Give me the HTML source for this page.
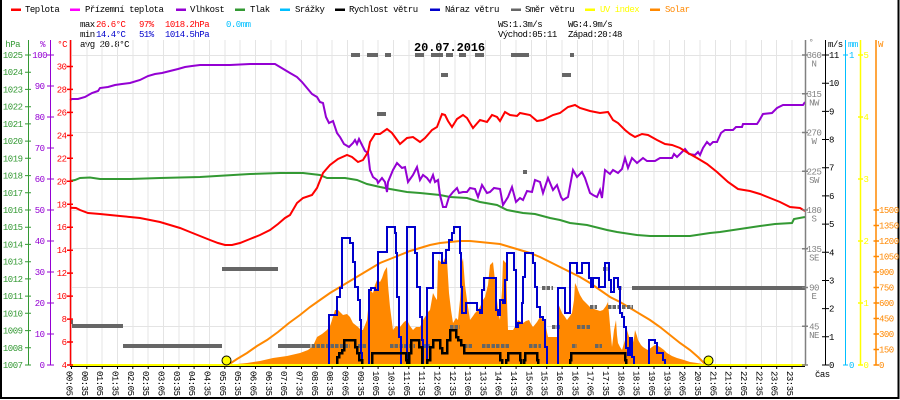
<!DOCTYPE html>
<html><head><meta charset="utf-8"><style>
html,body{margin:0;padding:0;background:#fff;}
svg{display:block;}
text{font-family:"Liberation Mono","DejaVu Sans Mono",monospace;font-size:9px;letter-spacing:-0.5px;}
</style></head><body>
<svg width="900" height="400" viewBox="0 0 900 400" xmlns="http://www.w3.org/2000/svg">
<rect x="0" y="0" width="900" height="400" fill="#fff"/>
<!-- border -->
<path d="M1 0V398H898.5V0" fill="none" stroke="#000" stroke-width="2"/>

<!-- legend -->
<g>
<rect x="11" y="8.5" width="10" height="2.5" fill="#ff0000"/><text x="25" y="12">Teplota</text>
<rect x="70" y="8.5" width="10" height="2.5" fill="#ff00ff"/><text x="85" y="12">Přízemní teplota</text>
<rect x="176" y="8.5" width="10" height="2.5" fill="#9400d3"/><text x="190" y="12">Vlhkost</text>
<rect x="235" y="8.5" width="10" height="2.5" fill="#339933"/><text x="250" y="12">Tlak</text>
<rect x="280" y="8.5" width="10" height="2.5" fill="#00bfff"/><text x="295" y="12">Srážky</text>
<rect x="335" y="8.5" width="10" height="2.5" fill="#000"/><text x="349" y="12">Rychlost větru</text>
<rect x="430" y="8.5" width="10" height="2.5" fill="#0000cc"/><text x="445" y="12">Náraz větru</text>
<rect x="511" y="8.5" width="10" height="2.5" fill="#666"/><text x="525" y="12">Směr větru</text>
<rect x="585" y="8.5" width="10" height="2.5" fill="#ffff00"/><text x="600" y="12" fill="#ffff00">UV index</text>
<rect x="650" y="8.5" width="10" height="2.5" fill="#ff8800"/><text x="665" y="12" fill="#ff8800">Solar</text>
</g>

<!-- stats -->
<text x="80" y="27">max</text>
<text x="96" y="27" fill="#ff0000">26.6°C</text>
<text x="139" y="27" fill="#ff0000">97%</text>
<text x="165" y="27" fill="#ff0000">1018.2hPa</text>
<text x="226" y="27" fill="#00bfff">0.0mm</text>
<text x="80" y="37">min</text>
<text x="96" y="37" fill="#0000cc">14.4°C</text>
<text x="139" y="37" fill="#0000cc">51%</text>
<text x="165" y="37" fill="#0000cc">1014.5hPa</text>
<text x="80" y="47">avg 20.8°C</text>
<text x="498" y="27">WS:1.3m/s</text>
<text x="568" y="27">WG:4.9m/s</text>
<text x="498" y="37">Východ:05:11</text>
<text x="568" y="37">Západ:20:48</text>

<!-- grid -->
<g stroke="#e4e4e4" stroke-width="1" shape-rendering="crispEdges">
<path d="M71.5 40V365M86.8 40V365M102.2 40V365M117.5 40V365M132.8 40V365M148.2 40V365M163.5 40V365M178.8 40V365M194.1 40V365M209.5 40V365M224.8 40V365M240.1 40V365M255.5 40V365M270.8 40V365M286.1 40V365M301.5 40V365M316.8 40V365M332.1 40V365M347.4 40V365M362.8 40V365M378.1 40V365M393.4 40V365M408.8 40V365M424.1 40V365M439.4 40V365M454.8 40V365M470.1 40V365M485.4 40V365M500.7 40V365M516.1 40V365M531.4 40V365M546.7 40V365M562.1 40V365M577.4 40V365M592.7 40V365M608.1 40V365M623.4 40V365M638.7 40V365M654 40V365M669.4 40V365M684.7 40V365M700 40V365M715.4 40V365M730.7 40V365M746 40V365M761.4 40V365M776.7 40V365M792 40V365"/>
<path d="M70 55.5H805M70 93.5H805M70 132.5H805M70 171.5H805M70 210.5H805M70 248.5H805M70 287.5H805M70 326.5H805"/>
</g>

<!-- title -->
<text x="414" y="51" style="font-size:12px;font-weight:bold;letter-spacing:-0.1px">20.07.2016</text>

<!-- solar fill -->
<polygon fill="#ff8800" points="227,365 237,364 247,363 260,361 273,358 287,356 300,353 308,350 313,346 317,337 322,334 327,330 330,326 332,320 335,310 338,310 341,313 343,315 347,314 350,317 353,323 358,327 361,330 363,330 365,325 367,320 369,300 370,290 373,293 375,285 377,280 380,282 382,278 384,272 385,270 387,267 388,285 390,307 393,330 396,326 400,327 404,322 407,320 410,326 413,330 416,327 420,327 423,320 425,317 428,312 430,310 433,293 435,297 437,300 438,260 441,262 443,262 445,258 447,260 449,293 451,310 453,323 456,318 458,320 460,300 462,262 463,258 465,285 467,300 470,320 473,316 475,313 478,310 480,307 483,300 485,297 488,285 490,265 493,262 496,290 498,310 500,320 502,290 503,260 506,263 507,300 508,330 513,330 516,325 518,320 521,322 523,323 526,321 529,320 531,324 533,327 537,322 540,317 543,320 545,323 548,337 552,337 557,337 558,303 560,308 562,313 565,317 567,320 570,316 572,313 574,300 575,283 577,287 578,290 580,295 583,300 587,304 590,307 594,309 597,310 600,311 603,310 606,306 608,302 610,325 612,347 614,330 616,320 617,335 618,343 620,347 622,350 625,340 627,330 630,340 632,347 634,338 635,330 637,336 638,340 641,345 643,347 646,349 648,350 652,347 655,345 658,346 660,347 664,350 667,353 672,356 677,358 684,360 690,362 697,363 703,364 706,365"/>
<!-- solar max curve -->
<polyline fill="none" stroke="#ff8800" stroke-width="2" points="228,365 237,359 247,353 257,346 267,340 278,332 289,323 300,315 310,307 320,300 330,293 340,287 350,281 360,275 370,269 380,263 390,259 400,255 410,251 420,248 430,245 440,243 450,242 460,241 470,241 480,242 490,243 500,244 510,247 520,250 530,253 540,257 550,262 560,267 570,272 580,277 590,283 600,290 610,297 620,302 630,308 640,314 650,320 660,327 670,335 680,343 690,350 698,357 706,365"/>

<!-- wind direction -->
<g stroke="#666" stroke-width="4" fill="none" shape-rendering="crispEdges">
<path d="M70 322H73M72 326H123M123 346H222M222 269H278M278 346H307M632 288H805"/>
<path d="M351 55H360M367 55H378M385 55H391M415 55H424M431 55H443M446 55H453M459 55H466M475 55H484M511 55H529M570 55H574M441 75H448M562 75H571M377 114H386M523 172H527"/>
<path stroke-dasharray="3.5 1.2" d="M307 346H350M358 346H366M390 346H415M423 346H430M464 346H473M482 346H510M529 346H541M572 346H577M595 346H602M450 327H460M552 327H561M577 327H590M590 307H597M608 307H633M542 288H553M618 288H622M603 269H609"/>
</g>

<!-- pressure -->
<polyline fill="none" stroke="#339933" stroke-width="2" points="70,181 75,180 80,178 90,177.5 100,179 130,179 160,178 200,177 250,174 280,173 303,173 320,175 327,178 345,178 357,180 367,184 380,187 390,189 407,192 420,193 440,195 450,197 467,198 480,202 497,205 507,210 523,213 535,214 550,218 560,220 570,223 587,225 607,230 617,232 637,235 650,236 673,236 690,236 710,233 720,232 740,229 760,226 775,224 792,223 794,219 805,217"/>

<!-- humidity -->
<polyline fill="none" stroke="#9400d3" stroke-width="2" points="70,100 72,99 78,99 85,97 92,93 98,91 100,88 108,87 115,85 122,84 130,83 140,80 148,76 155,74 162,73 170,71 178,69 185,67 192,66 200,65 210,65 230,65 250,64 275,64 280,67 285,70 290,73 297,77 302,82 307,88 312,94 317,97 320,102 323,103 326,117 329,123 333,121 337,133 340,137 344,144 349,147 353,143 355,140 357,144 359,139 362,145 365,151 368,153 370,170 373,177 377,180 378,183 382,178 385,182 387,192 388,182 393,170 397,163 402,168 405,167 408,182 413,175 417,167 420,180 423,175 427,178 430,182 433,175 435,182 438,180 440,195 443,207 446,207 449,197 453,192 457,188 459,193 463,192 467,192 470,188 475,189 478,197 482,185 487,193 490,192 494,188 500,189 503,205 508,197 512,187 516,202 520,198 523,200 527,191 532,192 535,180 540,182 543,193 548,178 553,190 557,185 561,197 563,200 568,197 573,170 577,177 582,172 585,178 590,193 593,195 597,197 600,190 602,198 605,170 610,174 613,170 618,173 622,169 625,158 628,168 632,158 637,163 643,158 647,161 655,161 660,158 672,158 674,154 677,157 685,149 689,154 695,155 698,152 700,155 703,148 707,142 710,145 713,142 717,142 721,133 725,130 733,130 736,127 742,127 743,124 757,124 759,121 763,114 772,113 777,108 783,105 803,105 805,102"/>

<!-- temperature -->
<polyline fill="none" stroke="#ff0000" stroke-width="2" points="70,207.7 76,208 80,210 88,213 100,214 110,215 120,216 130,217 140,218 150,220 160,222 170,225 180,228 190,232 200,236 210,240 218,243 225,245 232,245 240,243 250,239 260,235 270,230 278,224 285,218 290,215 297,203 303,198 312,195 317,188 323,173 330,165 338,159 347,155 352,157 358,162 363,160 368,152 370,142 375,134 380,134 387,129 392,133 400,144 407,138 413,137 420,142 425,138 432,130 437,127 442,114 445,115 448,121 452,127 457,119 463,115 467,118 473,128 480,120 487,122 492,115 497,117 500,121 505,112 510,115 517,116 520,113 530,115 537,121 543,120 553,115 560,113 568,107 575,105 580,108 590,111 600,113 608,112 613,120 618,123 625,130 630,134 635,137 642,134 648,135 657,140 665,144 672,145 680,148 688,153 697,158 707,164 717,172 728,182 738,189 750,191 760,194 770,198 780,202 790,207 800,208 805,211"/>

<!-- gust -->
<polyline fill="none" stroke="#0000cc" stroke-width="2" shape-rendering="crispEdges" points="70,365 329,365 329,315 337,315 337,297 340,297 340,288 342,288 342,238 350,238 350,243 353,243 353,262 355,262 355,287 358,287 358,300 360,300 360,320 361,320 361,353 362,353 362,365 369,365 369,290 371,290 371,288 375,288 375,290 378,290 378,252 387,252 387,227 395,227 395,233 396,233 396,253 397,253 397,297 399,297 399,337 401,337 401,365 407,365 407,227 415,227 415,253 417,253 417,287 420,287 420,317 422,317 422,340 423,340 423,365 427,365 427,288 433,288 433,253 442,253 442,263 446,263 446,250 449,250 449,240 452,240 452,233 454,233 454,227 460,227 460,253 461,253 461,287 462,287 462,313 466,313 466,303 477,303 477,310 480,310 480,313 482,313 482,290 484,290 484,278 496,278 496,310 498,310 498,315 500,315 500,300 503,300 503,303 505,303 505,280 507,280 507,253 514,253 514,270 516,270 516,327 518,327 518,323 522,323 522,303 523,303 523,277 525,277 525,253 533,253 533,263 535,263 535,287 537,287 537,307 540,307 540,317 543,317 543,320 545,320 545,347 547,347 547,365 558,365 558,288 565,288 565,313 570,313 570,263 577,263 577,273 582,273 582,263 589,263 589,278 591,278 591,287 593,287 593,278 599,278 599,287 605,287 605,263 609,263 609,280 611,280 611,292 614,292 614,278 618,278 618,287 620,287 620,313 622,313 622,317 624,317 624,327 626,327 626,348 628,348 628,355 630,355 630,338 632,338 632,357 634,357 634,365 649,365 649,340 655,340 655,343 657,343 657,353 663,353 663,360 665,360 665,365 805,365"/>

<!-- wind speed -->
<polyline fill="none" stroke="#000" stroke-width="2.5" shape-rendering="crispEdges" points="70,365 337,365 337,357 339,357 339,353 342,353 342,350 344,350 344,340 355,340 355,347 357,347 357,353 359,353 359,360 362,360 362,365 372,365 372,353 406,353 406,360 407,360 407,365 409,365 409,353 411,353 411,340 419,340 419,347 422,347 422,365 427,365 427,360 430,360 430,347 433,347 433,340 440,340 440,348 442,348 442,353 447,353 447,340 450,340 450,330 456,330 456,337 458,337 458,340 461,340 461,345 464,345 464,353 500,353 500,360 502,360 502,365 506,365 506,360 508,360 508,353 520,353 520,360 521,360 521,365 524,365 524,360 525,360 525,353 537,353 537,360 538,360 538,365 570,365 570,360 571,360 571,353 625,353 625,360 626,360 626,365 805,365"/>

<!-- x axis -->
<path d="M70 366.5H805" stroke="#000" stroke-width="1"/>
<path d="M70 365H805" stroke="#ffff00" stroke-width="2"/>
<circle cx="226.5" cy="360.5" r="4.5" fill="#ffff00" stroke="#000" stroke-width="1"/>
<circle cx="708.5" cy="360.5" r="4.5" fill="#ffff00" stroke="#000" stroke-width="1"/>
<path stroke="#000" stroke-width="1" d="M71.5 366v3M86.8 366v3M102.2 366v3M117.5 366v3M132.8 366v3M148.2 366v3M163.5 366v3M178.8 366v3M194.1 366v3M209.5 366v3M224.8 366v3M240.1 366v3M255.5 366v3M270.8 366v3M286.1 366v3M301.5 366v3M316.8 366v3M332.1 366v3M347.4 366v3M362.8 366v3M378.1 366v3M393.4 366v3M408.8 366v3M424.1 366v3M439.4 366v3M454.8 366v3M470.1 366v3M485.4 366v3M500.7 366v3M516.1 366v3M531.4 366v3M546.7 366v3M562.1 366v3M577.4 366v3M592.7 366v3M608.1 366v3M623.4 366v3M638.7 366v3M654 366v3M669.4 366v3M684.7 366v3M700 366v3M715.4 366v3M730.7 366v3M746 366v3M761.4 366v3M776.7 366v3M792 366v3"/>

<!-- time labels -->
<g>
<text transform="translate(66.5,371) rotate(90)">00:05</text>
<text transform="translate(81.8,371) rotate(90)">00:35</text>
<text transform="translate(97.2,371) rotate(90)">01:05</text>
<text transform="translate(112.5,371) rotate(90)">01:35</text>
<text transform="translate(127.8,371) rotate(90)">02:05</text>
<text transform="translate(143.2,371) rotate(90)">02:35</text>
<text transform="translate(158.5,371) rotate(90)">03:05</text>
<text transform="translate(173.8,371) rotate(90)">03:35</text>
<text transform="translate(189.1,371) rotate(90)">04:05</text>
<text transform="translate(204.5,371) rotate(90)">04:35</text>
<text transform="translate(219.8,371) rotate(90)">05:05</text>
<text transform="translate(235.1,371) rotate(90)">05:35</text>
<text transform="translate(250.5,371) rotate(90)">06:05</text>
<text transform="translate(265.8,371) rotate(90)">06:35</text>
<text transform="translate(281.1,371) rotate(90)">07:05</text>
<text transform="translate(296.5,371) rotate(90)">07:35</text>
<text transform="translate(311.8,371) rotate(90)">08:05</text>
<text transform="translate(327.1,371) rotate(90)">08:35</text>
<text transform="translate(342.4,371) rotate(90)">09:05</text>
<text transform="translate(357.8,371) rotate(90)">09:35</text>
<text transform="translate(373.1,371) rotate(90)">10:05</text>
<text transform="translate(388.4,371) rotate(90)">10:35</text>
<text transform="translate(403.8,371) rotate(90)">11:05</text>
<text transform="translate(419.1,371) rotate(90)">11:35</text>
<text transform="translate(434.4,371) rotate(90)">12:05</text>
<text transform="translate(449.8,371) rotate(90)">12:35</text>
<text transform="translate(465.1,371) rotate(90)">13:05</text>
<text transform="translate(480.4,371) rotate(90)">13:35</text>
<text transform="translate(495.7,371) rotate(90)">14:05</text>
<text transform="translate(511.1,371) rotate(90)">14:35</text>
<text transform="translate(526.4,371) rotate(90)">15:05</text>
<text transform="translate(541.7,371) rotate(90)">15:35</text>
<text transform="translate(557.1,371) rotate(90)">16:05</text>
<text transform="translate(572.4,371) rotate(90)">16:35</text>
<text transform="translate(587.7,371) rotate(90)">17:05</text>
<text transform="translate(603.1,371) rotate(90)">17:35</text>
<text transform="translate(618.4,371) rotate(90)">18:05</text>
<text transform="translate(633.7,371) rotate(90)">18:35</text>
<text transform="translate(649,371) rotate(90)">19:05</text>
<text transform="translate(664.4,371) rotate(90)">19:35</text>
<text transform="translate(679.7,371) rotate(90)">20:05</text>
<text transform="translate(695,371) rotate(90)">20:35</text>
<text transform="translate(710.4,371) rotate(90)">21:05</text>
<text transform="translate(725.7,371) rotate(90)">21:35</text>
<text transform="translate(741,371) rotate(90)">22:05</text>
<text transform="translate(756.4,371) rotate(90)">22:35</text>
<text transform="translate(771.7,371) rotate(90)">23:05</text>
<text transform="translate(787,371) rotate(90)">23:35</text>
</g>
<text x="815" y="377">čas</text>

<!-- hPa axis -->
<g fill="#339933" text-anchor="end">
<path d="M28.5 40V365M25 55H31M25 72.2H31M25 89.4H31M25 106.7H31M25 123.9H31M25 141.1H31M25 158.3H31M25 175.6H31M25 192.8H31M25 210H31M25 227.2H31M25 244.4H31M25 261.7H31M25 278.9H31M25 296.1H31M25 313.3H31M25 330.6H31M25 347.8H31M25 365H31" stroke="#339933" stroke-width="1"/>
<text x="22.5" y="58">1025</text><text x="22.5" y="75.2">1024</text><text x="22.5" y="92.4">1023</text><text x="22.5" y="109.7">1022</text><text x="22.5" y="126.9">1021</text><text x="22.5" y="144.1">1020</text><text x="22.5" y="161.3">1019</text><text x="22.5" y="178.6">1018</text><text x="22.5" y="195.8">1017</text><text x="22.5" y="213">1016</text><text x="22.5" y="230.2">1015</text><text x="22.5" y="247.4">1014</text><text x="22.5" y="264.7">1013</text><text x="22.5" y="281.9">1012</text><text x="22.5" y="299.1">1011</text><text x="22.5" y="316.3">1010</text><text x="22.5" y="333.6">1009</text><text x="22.5" y="350.8">1008</text><text x="22.5" y="368">1007</text>
<text x="20" y="47">hPa</text>
</g>

<!-- % axis -->
<g fill="#9400d3" text-anchor="end">
<path d="M50.5 40V365M47 55H54M47 86H54M47 117H54M47 148H54M47 179H54M47 210H54M47 241H54M47 272H54M47 303H54M47 334H54M47 365H54" stroke="#9400d3" stroke-width="1"/>
<text x="47" y="58">100</text><text x="44.5" y="89">90</text><text x="44.5" y="120">80</text><text x="44.5" y="151">70</text><text x="44.5" y="182">60</text><text x="44.5" y="213">50</text><text x="44.5" y="244">40</text><text x="44.5" y="275">30</text><text x="44.5" y="306">20</text><text x="44.5" y="337">10</text><text x="44.5" y="368">0</text>
<text x="45" y="47">%</text>
</g>

<!-- °C axis -->
<g fill="#ff0000" text-anchor="end">
<path d="M70.5 40V365M67 66.5H73M67 89.4H73M67 112.4H73M67 135.4H73M67 158.3H73M67 181.3H73M67 204.3H73M67 227.2H73M67 250.2H73M67 273.1H73M67 296.1H73M67 319.1H73M67 342H73M67 365H73" stroke="#ff0000" stroke-width="1.5"/>
<text x="66.5" y="69.5">30</text><text x="66.5" y="92.4">28</text><text x="66.5" y="115.4">26</text><text x="66.5" y="138.4">24</text><text x="66.5" y="161.3">22</text><text x="66.5" y="184.3">20</text><text x="66.5" y="207.3">18</text><text x="66.5" y="230.2">16</text><text x="66.5" y="253.2">14</text><text x="66.5" y="276.1">12</text><text x="66.5" y="299.1">10</text><text x="66.5" y="322.1">8</text><text x="66.5" y="345">6</text><text x="66.5" y="368">4</text>
<text x="67" y="47">°C</text>
</g>

<!-- direction axis -->
<g fill="#808080" text-anchor="middle">
<path d="M805.5 40V365M802 55H808M802 93.75H808M802 132.5H808M802 171.25H808M802 210H808M802 248.75H808M802 287.5H808M802 326.25H808M802 365H808" stroke="#808080" stroke-width="1.5"/>
<text x="814" y="58">360</text><text x="814" y="66.5">N</text>
<text x="814" y="96.8">315</text><text x="814" y="105.3">NW</text>
<text x="814" y="135.5">270</text><text x="814" y="144">W</text>
<text x="814" y="174.3">225</text><text x="814" y="182.8">SW</text>
<text x="814" y="213">180</text><text x="814" y="221.5">S</text>
<text x="814" y="251.8">135</text><text x="814" y="260.3">SE</text>
<text x="814" y="290.5">90</text><text x="814" y="299">E</text>
<text x="814" y="329.3">45</text><text x="814" y="337.8">NE</text>
<text x="811" y="45">°</text>
</g>

<!-- m/s axis -->
<g fill="#000">
<path d="M825.5 40V365M822 55H829M822 83.2H829M822 111.4H829M822 139.5H829M822 167.7H829M822 195.9H829M822 224.1H829M822 252.3H829M822 280.5H829M822 308.6H829M822 336.8H829M822 365H829" stroke="#000" stroke-width="1"/>
<text x="829" y="58">11</text><text x="829" y="86.2">10</text><text x="829" y="114.4">9</text><text x="829" y="142.5">8</text><text x="829" y="170.7">7</text><text x="829" y="198.9">6</text><text x="829" y="227.1">5</text><text x="829" y="255.3">4</text><text x="829" y="283.5">3</text><text x="829" y="311.6">2</text><text x="829" y="339.8">1</text><text x="829" y="368">0</text>
<text x="828" y="47">m/s</text>
</g>

<!-- mm axis -->
<g fill="#00bfff">
<path d="M845.5 40V365M843 55H848M843 365H848" stroke="#00bfff" stroke-width="1"/>
<text x="849" y="58">1</text><text x="849" y="368">0</text>
<text x="848" y="47">mm</text>
</g>

<!-- UV axis -->
<g fill="#ffff00">
<path d="M860.5 40V365M858 55H863M858 117H863M858 179H863M858 241H863M858 303H863M858 365H863" stroke="#ffff00" stroke-width="1.5"/>
<text x="863.5" y="58">5</text><text x="863.5" y="120">4</text><text x="863.5" y="182">3</text><text x="863.5" y="244">2</text><text x="863.5" y="306">1</text><text x="863.5" y="368">0</text>
</g>

<!-- W axis -->
<g fill="#ff8800">
<path d="M876 40V365M873.5 210H879M873.5 225.5H879M873.5 241H879M873.5 256.5H879M873.5 272H879M873.5 287.5H879M873.5 303H879M873.5 318.5H879M873.5 334H879M873.5 349.5H879M873.5 365H879" stroke="#ff8800" stroke-width="1.5"/>
<text x="879" y="213">1500</text><text x="879" y="228.5">1350</text><text x="879" y="244">1200</text><text x="879" y="259.5">1050</text><text x="879" y="275">900</text><text x="879" y="290.5">750</text><text x="879" y="306">600</text><text x="879" y="321.5">450</text><text x="879" y="337">300</text><text x="879" y="352.5">150</text><text x="879" y="368">0</text>
<text x="878" y="47">W</text>
</g>
</svg>
</body></html>
